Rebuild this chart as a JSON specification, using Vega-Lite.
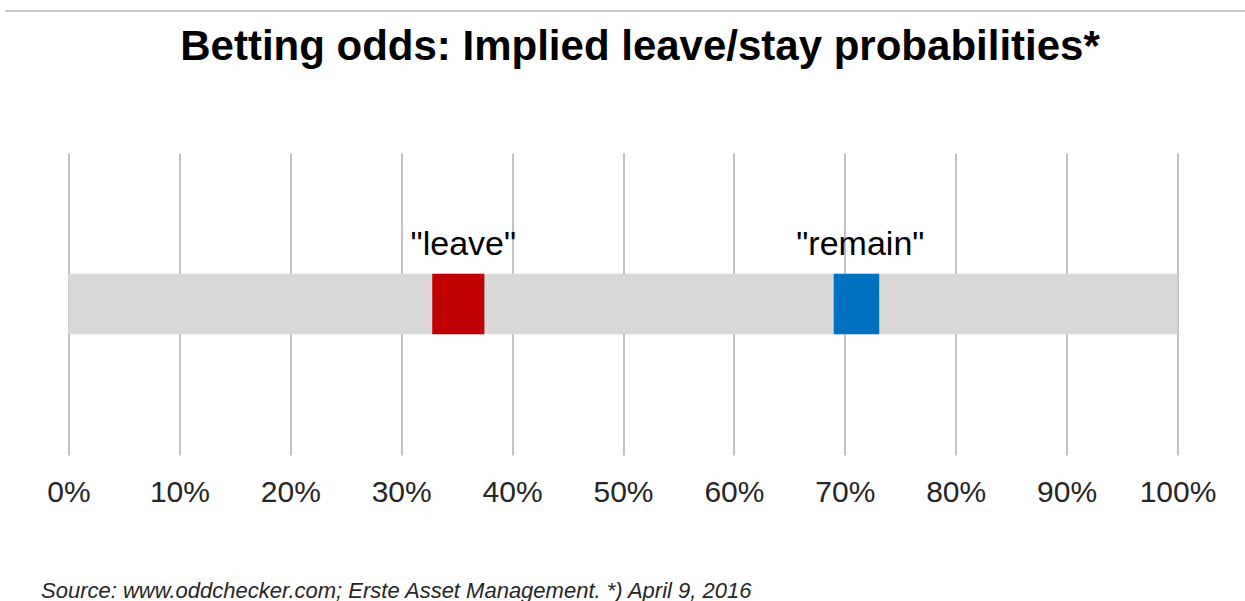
{
  "$schema": "https://vega.github.io/schema/vega-lite/v6.json",
  "width": 1109,
  "height": 302,
  "autosize": {"type": "none"},
  "padding": {"left": 68.5, "top": 153, "right": 67.5, "bottom": 146},
  "background": "#ffffff",
  "title": {
    "text": "Betting odds: Implied  leave/stay probabilities*",
    "font": "Liberation Sans",
    "fontSize": 42,
    "fontWeight": "bold",
    "color": "#000000",
    "anchor": "middle",
    "frame": "group",
    "baseline": "alphabetic",
    "offset": 0,
    "dy": 92,
    "dx": 17
  },
  "data": {
    "values": [
      {"series": "band", "start": 0, "end": 1},
      {"series": "leave", "start": 0.328, "end": 0.375, "label": "\"leave\"", "label_at": 0.356},
      {"series": "remain", "start": 0.69, "end": 0.731, "label": "\"remain\"", "label_at": 0.714}
    ]
  },
  "layer": [
    {
      "mark": {"type": "rect"},
      "encoding": {
        "x": {
          "field": "start",
          "type": "quantitative",
          "scale": {"domain": [0, 1], "nice": false},
          "axis": {
            "values": [0, 0.1, 0.2, 0.3, 0.4, 0.5, 0.6, 0.7, 0.8, 0.9, 1],
            "format": ".0%",
            "grid": true,
            "gridColor": "#b3b3b3",
            "gridWidth": 1.6,
            "domain": false,
            "ticks": false,
            "tickSize": 0,
            "labelFont": "Liberation Sans",
            "labelFontSize": 30,
            "labelColor": "#262626",
            "labelBaseline": "alphabetic",
            "labelPadding": 46,
            "labelFlush": false,
            "labelOverlap": false,
            "title": "Source: www.oddchecker.com; Erste Asset Management. *) April 9, 2016",
            "titleFont": "Liberation Sans",
            "titleFontSize": 22,
            "titleFontStyle": "italic",
            "titleFontWeight": "normal",
            "titleColor": "#262626",
            "titleAlign": "left",
            "titleBaseline": "alphabetic",
            "titleX": -28,
            "titleY": 142
          }
        },
        "x2": {"field": "end"},
        "y": {"datum": 0.4, "type": "quantitative", "scale": {"domain": [0, 1], "nice": false}, "axis": null},
        "y2": {"datum": 0.6},
        "color": {
          "field": "series",
          "type": "nominal",
          "scale": {"domain": ["band", "leave", "remain"], "range": ["#d9d9d9", "#c00000", "#0070c0"]},
          "legend": null
        }
      }
    },
    {
      "transform": [{"filter": "datum.label != null"}],
      "mark": {"type": "text", "font": "Liberation Sans", "fontSize": 34, "baseline": "alphabetic", "align": "center", "color": "#000000"},
      "encoding": {
        "x": {"field": "label_at", "type": "quantitative"},
        "y": {"datum": 0.662, "type": "quantitative"},
        "text": {"field": "label"}
      }
    },
    {
      "mark": {"type": "rule", "color": "#c8c8c8", "strokeWidth": 1.5},
      "encoding": {
        "x": {"datum": -0.057, "type": "quantitative"},
        "x2": {"datum": 1.061},
        "y": {"datum": 1.47, "type": "quantitative"}
      }
    }
  ],
  "config": {
    "view": {"stroke": null}
  }
}
